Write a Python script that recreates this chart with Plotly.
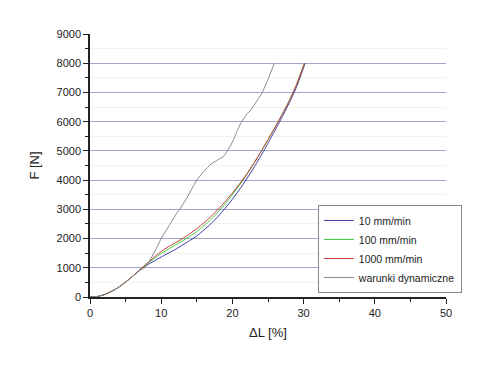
import plotly.graph_objects as go

# Data
gray_x = [0, 1, 2, 3, 4, 5, 6, 7, 7.7, 8.5, 9.3, 10, 11, 12, 12.6, 13.5, 14.3, 15, 16, 17, 18, 18.7, 19.3, 20, 20.7, 21.3, 22, 22.6, 23.4, 24.2, 25, 25.9]
gray_y = [0, 15, 80, 190, 330, 510, 710, 910, 1000, 1300, 1650, 2000, 2400, 2800, 3000, 3350, 3700, 4000, 4300, 4550, 4700, 4800, 5000, 5300, 5700, 6000, 6250, 6400, 6700, 7000, 7450, 8000]

blue_x = [0, 1, 2, 3, 4, 5, 6, 7, 7.3, 8, 9, 10, 11, 12, 13, 14, 15, 16, 17, 18, 19, 20, 21, 22, 23, 24, 25, 26, 27, 28, 29, 30, 30.2]
blue_y = [0, 15, 80, 190, 330, 510, 710, 930, 1000, 1090, 1230, 1370, 1500, 1630, 1780, 1930, 2090, 2290, 2510, 2760, 3040, 3350, 3680, 4040, 4420, 4830, 5260, 5710, 6170, 6650, 7180, 7850, 8000]

green_x = [0, 1, 2, 3, 4, 5, 6, 7, 7.3, 8, 9, 10, 11, 12, 13, 14, 15, 16, 17, 18, 19, 20, 21, 22, 23, 24, 25, 26, 27, 28, 29, 30, 30.1]
green_y = [0, 15, 80, 190, 330, 510, 710, 930, 1000, 1130, 1310, 1490, 1640, 1780, 1920, 2070, 2240, 2440, 2660, 2910, 3190, 3500, 3830, 4180, 4560, 4960, 5380, 5810, 6260, 6730, 7260, 7920, 8000]

red_x = [0, 1, 2, 3, 4, 5, 6, 7, 7.3, 8, 9, 10, 11, 12, 13, 14, 15, 16, 17, 18, 19, 20, 21, 22, 23, 24, 25, 26, 27, 28, 29, 30, 30.1]
red_y = [0, 15, 80, 190, 330, 510, 710, 930, 1000, 1150, 1360, 1560, 1720, 1860, 2000, 2160, 2340, 2540, 2760, 3000, 3270, 3560, 3870, 4200, 4570, 4970, 5390, 5810, 6250, 6720, 7260, 7920, 8000]

names = ["10 mm/min", "100 mm/min", "1000 mm/min", "warunki dynamiczne"]
colors = ["#3a3aa8", "#3cc83c", "#c83a3a", "#8a8a8a"]

fig = go.Figure()
series = [(blue_x, blue_y), (green_x, green_y), (red_x, red_y), (gray_x, gray_y)]
for (xs, ys), n, c in zip(series, names, colors):
    fig.add_trace(go.Scatter(x=xs, y=ys, mode="lines", name=n,
                             line=dict(color=c, width=1, shape="spline", smoothing=0.5)))

fig.update_layout(
    width=480, height=366,
    margin=dict(l=82, r=42, t=26, b=77),
    paper_bgcolor="white", plot_bgcolor="white",
    font=dict(family="Liberation Sans, Arial, sans-serif", size=11, color="#222"),
    showlegend=True,
    legend=dict(x=0.64, y=0.35, xanchor="left", yanchor="top",
                bgcolor="white", bordercolor="#888", borderwidth=1,
                font=dict(size=10.5), tracegroupgap=0, itemwidth=30),
)
fig.update_xaxes(
    range=[0, 50], tickvals=[0, 10, 20, 30, 40, 50],
    ticks="outside", ticklen=5, tickwidth=1, tickcolor="#222",
    minor=dict(dtick=5, ticks="outside", ticklen=3, tickcolor="#222", showgrid=False),
    showline=True, linecolor="#222", linewidth=1.5,
    showgrid=False, zeroline=False, automargin=False,
    title=dict(text="ΔL [%]", font=dict(size=13), standoff=10),
)
fig.update_yaxes(
    range=[0, 9000], dtick=1000,
    ticks="outside", ticklen=5, tickwidth=1, tickcolor="#222",
    minor=dict(dtick=500, ticks="outside", ticklen=3, tickcolor="#222",
               showgrid=True, gridcolor="#f4f2e6", gridwidth=1),
    showline=True, linecolor="#222", linewidth=1.5,
    showgrid=True, gridcolor="#a4a4cc", gridwidth=1.3, zeroline=False, automargin=False,
    title=dict(text="F [N]", font=dict(size=13), standoff=14),
)
fig.write_html("out.html")
